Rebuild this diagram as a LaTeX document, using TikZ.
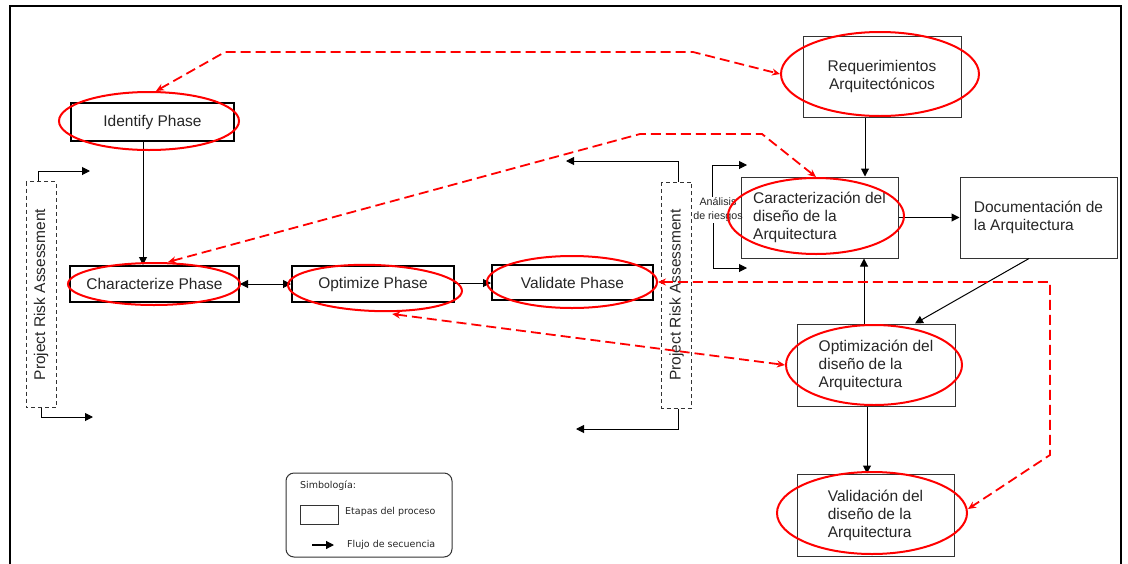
\documentclass[tikz,border=0pt]{standalone}
\usepackage{fontspec}
\setmainfont{Liberation Sans}
\newfontfamily\legendfont{DejaVu Sans}
\usetikzlibrary{arrows.meta,shapes.geometric,calc}

\begin{document}
\begin{tikzpicture}[x=1pt,y=-1pt,
  txt/.style={text=black!85, font=\fontsize{15.5}{18}\selectfont},
  phase/.style={txt, draw=black, line width=2pt, inner sep=0pt},
  stage/.style={txt, draw=black!80, line width=1pt, inner sep=0pt, align=left},
  prabox/.style={txt, draw=black!80, line width=1pt, dash pattern=on 4pt off 3pt,
    inner sep=0pt, rotate=90, minimum width=226pt, minimum height=30pt},
  redring/.style={ellipse, draw=red, line width=2pt, inner sep=0pt},
  flow/.style={line width=1pt, -{Triangle[length=8pt,width=8pt]}},
  bothflow/.style={line width=1pt, {Triangle[length=8pt,width=8pt]}-{Triangle[length=8pt,width=8pt]}},
  redlink/.style={red, line width=1.8pt, dash pattern=on 10pt off 5pt,
    {Stealth[length=8pt,width=7pt]}-{Stealth[length=8pt,width=7pt]}},
  lgd/.style={anchor=west, inner sep=0pt, text=black!85, font=\legendfont\fontsize{9.5}{11}\selectfont}
]
\useasboundingbox (0,0) rectangle (1128,563);
\fill[white] (0,0) rectangle (1128,563);

% page frame
\draw[line width=2.2pt] (10,565) -- (10,6) -- (1121,6) -- (1121,565);

% phase boxes
\node[phase, minimum width=163pt, minimum height=38pt] (idb) at (152.5,122) {Identify Phase};
\node[phase, minimum width=169pt, minimum height=36pt] (chb) at (154.5,284) {Characterize Phase};
\node[phase, minimum width=162pt, minimum height=36pt] (opb) at (373,284) {Optimize Phase};
\node[phase, minimum width=161pt, minimum height=35pt] (vab) at (572.5,282.5) {Validate Phase};

% architecture stages
\node[stage, align=center, minimum width=158pt, minimum height=81pt] (reb) at (882,76.5) {Requerimientos\\Arquitectónicos};
\node[stage, minimum width=157pt, minimum height=81pt] (cab) at (819.5,217.5) {Caracterización del\\diseño de la\\Arquitectura};
\node[stage, minimum width=157pt, minimum height=81pt] (dob) at (1038.5,217.5) {Documentación de\\la Arquitectura};
\node[stage, minimum width=158pt, minimum height=82pt] (omb) at (876,365) {Optimización del\\diseño de la\\Arquitectura};
\node[stage, minimum width=157pt, minimum height=82pt] (vlb) at (875.5,515) {Validación del\\diseño de la\\Arquitectura};

% risk assessment bars
\node[prabox] (pra1) at (41,294.5) {Project Risk Assessment};
\node[prabox] (pra2) at (676.5,295) {Project Risk Assessment};
\node[align=center, inner sep=1pt, text=black!85, font=\fontsize{10.7}{14}\selectfont] (an) at (718,210) {Análisis\\de riesgos};

% sequence flow
\draw[flow] ([xshift=-9.5pt]idb.south) -- ([xshift=-11.5pt]chb.north);
\draw[bothflow] (chb.east) -- (opb.west);
\draw[flow] ([yshift=1pt]opb.east) -- ([yshift=1pt]opb.east -| vab.west);
\coordinate (rq) at ($(reb.south)+(-17,0)$);
\draw[flow] (rq) -- (rq |- cab.north);
\draw[flow] (cab.east) -- (cab.east -| dob.west);
\draw[flow] ([xshift=-9.5pt]dob.south) -- ([xshift=39pt]omb.north);
\coordinate (oc) at ($(omb.north)+(-12,0)$);
\draw[flow] (oc) -- (oc |- cab.south);
\coordinate (ov) at ($(omb.south)+(-9,0)$);
\draw[flow] (ov) -- (ov |- vlb.north);

% risk assessment feedback
\coordinate (p1a) at (90,171);
\coordinate (p1b) at (93,417);
\draw[flow] ([xshift=-3pt]pra1.east) |- (p1a);
\draw[flow] (pra1.west) |- (p1b);
\coordinate (p2a) at (566,161);
\coordinate (p2b) at (576,429);
\draw[flow] ([xshift=1.5pt]pra2.east) |- (p2a);
\draw[flow] ([xshift=1.5pt]pra2.west) |- (p2b);
\coordinate (a1) at (747,165);
\coordinate (a2) at (747,268);
\draw[flow] ([xshift=-6pt]an.north) |- (a1);
\draw[flow] ([xshift=-5pt]an.south) |- (a2);

% highlighted correspondences
\node[redring, minimum width=180pt, minimum height=58pt] (ide) at (149,121) {};
\node[redring, minimum width=172pt, minimum height=42pt] (che) at (154,284) {};
\node[redring, minimum width=174pt, minimum height=46pt, rotate=-2] (ope) at (375,288) {};
\node[redring, minimum width=170pt, minimum height=52pt] (vae) at (572,282) {};
\node[redring, minimum width=198pt, minimum height=84pt] (ree) at (880,74) {};
\node[redring, minimum width=176pt, minimum height=76pt] (cae) at (816,216) {};
\node[redring, minimum width=176pt, minimum height=80pt] (ome) at (874,365) {};
\node[redring, minimum width=190pt, minimum height=82pt] (vle) at (872,513) {};

\draw[redlink] ([xshift=7pt]ide.north) -- (225,52) -- (693,52) -- (ree.west);
\draw[redlink] ([xshift=14pt]che.north) -- (640,134) -- (762,134) -- (cae.north);
\draw[redlink] ([xshift=18pt,yshift=-2pt]ope.south) -- (ome.west);
\draw[redlink] (vae.east) -- (1050,282) -- (1050,455) -- ([yshift=4pt]vle.east);

% legend
\node[draw=black!80, line width=1pt, rounded corners=8pt, minimum width=166pt, minimum height=84pt] (leg) at (369,515) {};
\node[lgd] (lt) at (300,486) {Simbología:};
\node[draw=black!80, line width=1pt, minimum width=38pt, minimum height=19pt, inner sep=0pt] (lbox) at (319,514.5) {};
\node[lgd] (le) at (345,512) {Etapas del proceso};
\coordinate (la) at (312,545);
\coordinate (lb) at (334,545);
\draw[flow, line width=1.2pt] (la) -- (lb);
\node[lgd] (lf) at (347,545) {Flujo de secuencia};
\end{tikzpicture}
\end{document}
